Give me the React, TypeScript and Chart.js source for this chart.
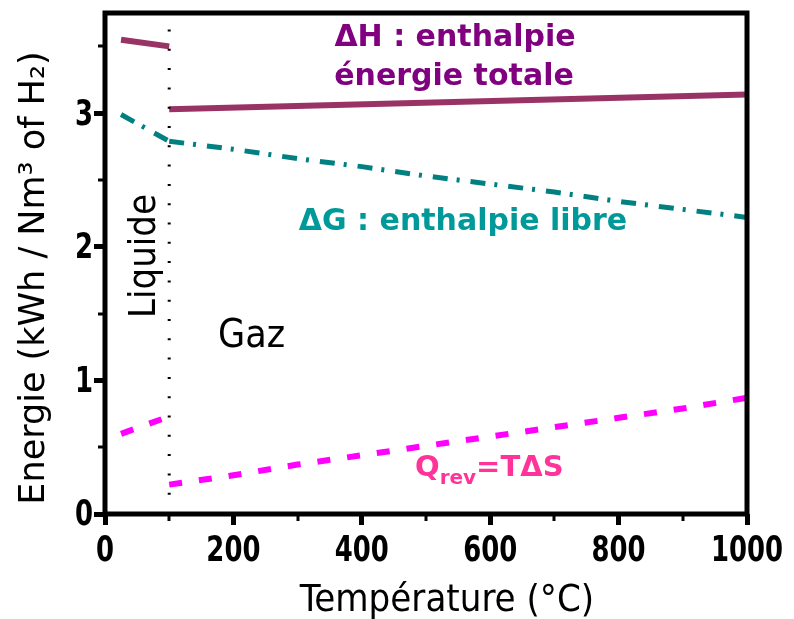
import React, { useEffect, useRef } from 'react';
import { Chart, registerables } from 'chart.js';

Chart.register(...registerables);

// ---- Data ----
const liquidT = [25, 100];
const gasT = [100, 200, 300, 400, 500, 600, 700, 800, 900, 1000];
const dH_gasT = [100, 1000];
const dH_liquid = [3.55, 3.5];
const dH_gas = [3.03, 3.14];
const dG_liquid = [2.99, 2.79];
const dG_gas = [2.79, 2.73, 2.66, 2.6, 2.53, 2.47, 2.41, 2.34, 2.28, 2.22];
const Q_liquid = [0.6, 0.73];
const Q_gas = [0.22, 0.29, 0.37, 0.44, 0.51, 0.58, 0.65, 0.72, 0.79, 0.87];
const phaseT = 100;
const phaseSpan = [0, 3.75];

const xTicks = [0, 200, 400, 600, 800, 1000];
const xMinor = [100, 300, 500, 700, 900];
const yTicks = [0, 1, 2, 3];
const yMinor = [0.5, 1.5, 2.5, 3.5];

const xTitle = 'Température (°C)';
const yTitle = 'Energie (kWh / Nm³ of H₂)';

const TICK_FONT = '"DejaVu Sans Condensed", "DejaVu Sans", sans-serif';
const AXIS_FONT = '"DejaVu Sans Condensed", "DejaVu Sans", sans-serif';
const LABEL_FONT = '"DejaVu Sans", Verdana, sans-serif';

const pts = (xs: number[], ys: number[]) => xs.map((x, i) => ({ x, y: ys[i] }));

const C_H = '#993366';
const C_G = '#008080';
const C_Q = '#FF00FF';

const SQUEEZE = 0.8;

const framePlugin = {
  id: 'frameAndLabels',
  afterDraw(chart: any) {
    const { ctx, chartArea: a, scales } = chart;
    const xs = scales.x;
    const ys = scales.y;
    ctx.save();
    // minor ticks
    ctx.strokeStyle = '#000';
    ctx.lineWidth = 3;
    ctx.beginPath();
    xMinor.forEach((v) => {
      const px = Math.round(xs.getPixelForValue(v));
      ctx.moveTo(px, a.bottom);
      ctx.lineTo(px, a.bottom + 7);
    });
    yMinor.forEach((v) => {
      const py = Math.round(ys.getPixelForValue(v));
      ctx.moveTo(a.left, py);
      ctx.lineTo(a.left - 7, py);
    });
    ctx.stroke();
    // frame
    ctx.lineWidth = 5;
    ctx.strokeRect(a.left, a.top, a.right - a.left, a.bottom - a.top);

    // tick labels (horizontally condensed)
    ctx.fillStyle = '#000';
    ctx.font = `bold 36px ${TICK_FONT}`;
    ctx.textBaseline = 'middle';
    ctx.textAlign = 'center';
    xs.ticks.forEach((t: any) => {
      const px = xs.getPixelForValue(t.value);
      ctx.save();
      ctx.translate(px, a.bottom + 38);
      ctx.scale(SQUEEZE, 1);
      ctx.fillText(String(t.value), 0, 0);
      ctx.restore();
    });
    ctx.textAlign = 'right';
    ys.ticks.forEach((t: any) => {
      const py = ys.getPixelForValue(t.value);
      ctx.save();
      ctx.translate(a.left - 12, py + 2);
      ctx.scale(SQUEEZE, 1);
      ctx.fillText(String(t.value), 0, 0);
      ctx.restore();
    });

    // axis titles
    ctx.textAlign = 'center';
    ctx.textBaseline = 'alphabetic';
    ctx.font = `38px ${AXIS_FONT}`;
    ctx.fillText(xTitle, 447, 611);
    ctx.save();
    ctx.translate(44, 278);
    ctx.rotate(-Math.PI / 2);
    ctx.font = `35px ${LABEL_FONT}`;
    ctx.fillText(yTitle, 0, 0);
    ctx.restore();

    // annotations
    ctx.font = `bold 30px ${LABEL_FONT}`;
    ctx.fillStyle = '#800080';
    ctx.textAlign = 'center';
    ctx.fillText('ΔH : enthalpie', 455, 46);
    ctx.fillText('énergie totale', 454, 85);

    ctx.fillStyle = '#009999';
    ctx.fillText('ΔG : enthalpie libre', 463, 230);

    // Q_rev = TΔS
    ctx.fillStyle = '#FF3399';
    ctx.textAlign = 'left';
    let x = 415;
    const base = 476;
    ctx.font = `bold 29px ${LABEL_FONT}`;
    ctx.fillText('Q', x, base);
    x += ctx.measureText('Q').width;
    ctx.font = `bold 20px ${LABEL_FONT}`;
    ctx.fillText('rev', x, base + 8);
    x += ctx.measureText('rev').width;
    ctx.font = `bold 29px ${LABEL_FONT}`;
    ctx.fillText('=TΔS', x, base);

    // Gaz / Liquide
    ctx.fillStyle = '#000';
    ctx.font = `39px ${AXIS_FONT}`;
    ctx.textAlign = 'left';
    ctx.fillText('Gaz', 218, 347);
    ctx.save();
    ctx.translate(155, 256);
    ctx.rotate(-Math.PI / 2);
    ctx.textAlign = 'center';
    ctx.font = `38px ${AXIS_FONT}`;
    ctx.fillText('Liquide', 0, 0);
    ctx.restore();

    ctx.restore();
  },
};

export default function App() {
  const ref = useRef<HTMLCanvasElement | null>(null);
  useEffect(() => {
    if (!ref.current) return;
    const common = { pointRadius: 0, fill: false, tension: 0 };
    const chart = new Chart(ref.current, {
      type: 'line',
      data: {
        datasets: [
          {
            ...common,
            label: 'phase',
            data: phaseSpan.map((y) => ({ x: phaseT, y })),
            borderColor: '#000',
            borderWidth: 3,
            borderDash: [2, 17.3],
          },
          { ...common, label: 'ΔH liquide', data: pts(liquidT, dH_liquid), borderColor: C_H, borderWidth: 6 },
          { ...common, label: 'ΔH gaz', data: pts(dH_gasT, dH_gas), borderColor: C_H, borderWidth: 6 },
          { ...common, label: 'ΔG liquide', data: pts(liquidT, dG_liquid), borderColor: C_G, borderWidth: 5, borderDash: [15, 9, 3, 11] },
          { ...common, label: 'ΔG gaz', data: pts(gasT, dG_gas), borderColor: C_G, borderWidth: 5, borderDash: [15, 9, 3, 11] },
          { ...common, label: 'Q liquide', data: pts(liquidT, Q_liquid), borderColor: C_Q, borderWidth: 6, borderDash: [13, 17] },
          { ...common, label: 'Q gaz', data: pts(gasT, Q_gas), borderColor: C_Q, borderWidth: 6, borderDash: [13, 17] },
        ],
      },
      options: {
        animation: false,
        responsive: false,
        events: [],
        layout: { padding: { left: 0, right: 47, top: 13, bottom: 0 } },
        plugins: { legend: { display: false }, tooltip: { enabled: false } },
        scales: {
          x: {
            type: 'linear',
            min: 0,
            max: 1000,
            afterBuildTicks: (s: any) => {
              s.ticks = xTicks.map((v) => ({ value: v }));
            },
            afterFit: (s: any) => {
              s.height = 105;
              s.paddingLeft = 0;
              s.paddingRight = 0;
            },
            border: { display: false },
            grid: { drawOnChartArea: false, drawTicks: true, tickLength: 11, tickWidth: 5, tickColor: '#000' },
            ticks: { display: false, autoSkip: false },
            title: { display: false },
          },
          y: {
            type: 'linear',
            min: 0,
            max: 3.75,
            afterBuildTicks: (s: any) => {
              s.ticks = yTicks.map((v) => ({ value: v }));
            },
            afterFit: (s: any) => {
              s.width = 105;
              s.paddingTop = 0;
              s.paddingBottom = 0;
            },
            border: { display: false },
            grid: { drawOnChartArea: false, drawTicks: true, tickLength: 11, tickWidth: 5, tickColor: '#000' },
            ticks: { display: false },
            title: { display: false },
          },
        },
      },
      plugins: [framePlugin],
    } as any);
    return () => chart.destroy();
  }, []);
  return (
    <div style={{ position: 'absolute', left: 0, top: 0, width: 794, height: 619, background: '#fff' }}>
      <canvas ref={ref} width={794} height={619} style={{ display: 'block' }} />
    </div>
  );
}
